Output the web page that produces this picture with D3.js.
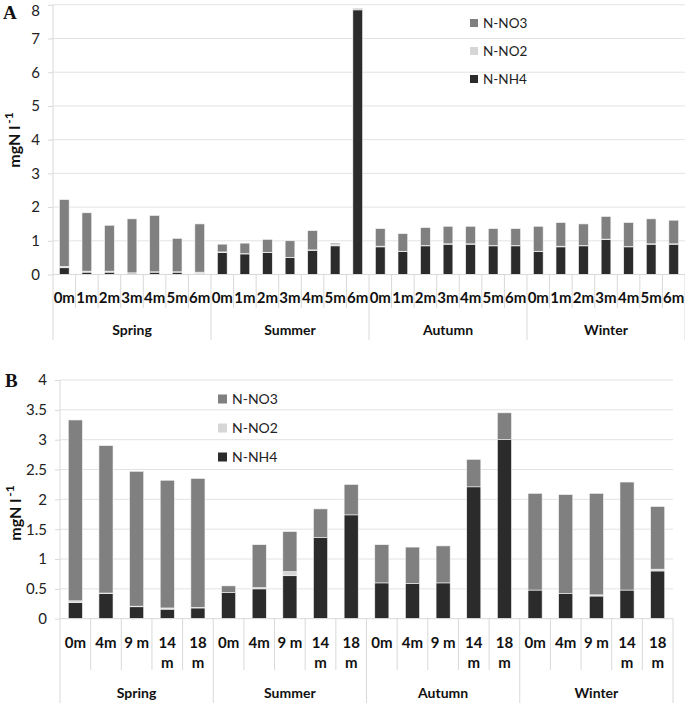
<!DOCTYPE html>
<html>
<head>
<meta charset="utf-8">
<script src="https://cdn.jsdelivr.net/npm/d3@7/dist/d3.min.js"></script>
<style>
  html, body { margin: 0; padding: 0; background: #fff; }
  svg { display: block; }
</style>
</head>
<body>
<svg id="chart" width="685" height="703"></svg>
<script>
// ---------- DATA ----------
const seriesKeys = ["N-NH4", "N-NO2", "N-NO3"];
const legendOrder = ["N-NO3", "N-NO2", "N-NH4"];
const seriesColors = ["#2b2b2b", "#d6d6d6", "#808080"];

// Panel A
const seasonsA = ["Spring", "Summer", "Autumn", "Winter"];
const depthsA = ["0m", "1m", "2m", "3m", "4m", "5m", "6m"];
const nh4A = [0.20, 0.07, 0.07, 0.04, 0.07, 0.07, 0.03,
              0.65, 0.61, 0.65, 0.50, 0.72, 0.85, 7.85,
              0.82, 0.68, 0.85, 0.90, 0.90, 0.85, 0.85,
              0.68, 0.82, 0.85, 1.04, 0.82, 0.90, 0.90];
const no2A = [0.04, 0.03, 0.03, 0.01, 0.01, 0.01, 0.04,
              0.02, 0.01, 0.01, 0.01, 0.01, 0.04, 0.01,
              0.02, 0.01, 0.01, 0.01, 0.01, 0.01, 0.01,
              0.01, 0.02, 0.01, 0.01, 0.01, 0.01, 0.01];
const no3A = [1.98, 1.73, 1.36, 1.60, 1.67, 0.99, 1.43,
              0.23, 0.31, 0.38, 0.49, 0.57, 0.04, 0.03,
              0.52, 0.52, 0.53, 0.52, 0.52, 0.50, 0.50,
              0.74, 0.70, 0.64, 0.67, 0.71, 0.74, 0.70];
const ticksA = [0, 1, 2, 3, 4, 5, 6, 7, 8];

// Panel B
const seasonsB = ["Spring", "Summer", "Autumn", "Winter"];
const depthsB = ["0m", "4m", "9 m", "14 m", "18 m"];
const nh4B = [0.27, 0.42, 0.20, 0.16, 0.18,
              0.44, 0.50, 0.72, 1.36, 1.74,
              0.60, 0.59, 0.60, 2.21, 3.00,
              0.48, 0.42, 0.38, 0.48, 0.80];
const no2B = [0.03, 0.01, 0.01, 0.02, 0.01,
              0.00, 0.02, 0.07, 0.00, 0.00,
              0.00, 0.00, 0.00, 0.00, 0.00,
              0.00, 0.00, 0.02, 0.00, 0.03];
const no3B = [3.03, 2.47, 2.26, 2.14, 2.16,
              0.11, 0.72, 0.67, 0.48, 0.51,
              0.64, 0.61, 0.62, 0.46, 0.45,
              1.62, 1.66, 1.70, 1.81, 1.05];
const ticksB = [0, 0.5, 1, 1.5, 2, 2.5, 3, 3.5, 4];

// ---------- DRAW ----------
const svg = d3.select("#chart");
const FONT = "Lato, 'Open Sans', 'Liberation Sans', sans-serif";

function buildRows(seasons, depths, nh4, no2, no3) {
  const rows = [];
  let i = 0;
  seasons.forEach(s => depths.forEach(d => {
    rows.push({ key: s + "|" + d, season: s, depth: d,
      "N-NH4": nh4[i], "N-NO2": no2[i], "N-NO3": no3[i] });
    i++;
  }));
  return rows;
}

function drawPanel(cfg) {
  const g = svg.append("g");
  const rows = buildRows(cfg.seasons, cfg.depths, cfg.nh4, cfg.no2, cfg.no3);
  const x = d3.scaleBand().domain(rows.map(r => r.key)).range([cfg.left, cfg.right]).padding(0);
  const y = d3.scaleLinear().domain([0, cfg.max]).range([cfg.bottom, cfg.top]);
  const step = x.step();
  const bw = step * cfg.barFrac;

  // gridlines
  g.append("g").selectAll("line").data(cfg.ticks.filter(t => t > 0)).join("line")
    .attr("x1", cfg.left).attr("x2", cfg.right)
    .attr("y1", d => y(d)).attr("y2", d => y(d))
    .attr("stroke", "#e3e3e3").attr("stroke-width", 1);

  // y axis
  const yAxis = d3.axisLeft(y).tickValues(cfg.ticks).tickSize(5).tickPadding(8)
    .tickFormat(d => String(d));
  const ya = g.append("g").attr("transform", `translate(${cfg.left},0)`).call(yAxis);
  ya.select(".domain").remove();
  ya.selectAll(".tick line").attr("stroke", "#d9d9d9");
  ya.selectAll(".tick text").attr("font-family", FONT).attr("font-size", cfg.tickFont)
    .attr("fill", "#222")
    .attr("y", d => Math.max(0, cfg.minTickBaseline - y(d)))
    .attr("dy", d => (cfg.minTickBaseline - y(d) > 0 ? "0" : "0.32em"));
  g.append("line").attr("x1", cfg.left).attr("x2", cfg.left)
    .attr("y1", cfg.top).attr("y2", cfg.groupLineEnd)
    .attr("stroke", "#d9d9d9");

  // bars
  const stack = d3.stack().keys(seriesKeys)(rows);
  g.append("g").selectAll("g").data(stack).join("g")
    .attr("fill", (d, i) => seriesColors[i])
    .selectAll("rect").data(d => d).join("rect")
    .attr("x", d => x(d.data.key) + (step - bw) / 2)
    .attr("width", bw)
    .attr("y", d => y(d[1]))
    .attr("height", d => Math.max(0, y(d[0]) - y(d[1])))
    .attr("stroke", "#f4f4f4").attr("stroke-width", 0.6);

  // baseline
  g.append("line").attr("x1", cfg.left).attr("x2", cfg.right)
    .attr("y1", cfg.bottom).attr("y2", cfg.bottom).attr("stroke", "#d9d9d9");

  // category separators
  const nPer = cfg.depths.length;
  rows.forEach((r, i) => {
    if (i === 0) return;
    const xs = x(r.key);
    const isGroup = i % nPer === 0;
    g.append("line").attr("x1", xs).attr("x2", xs)
      .attr("y1", cfg.bottom).attr("y2", isGroup ? cfg.groupLineEnd : cfg.catLineEnd)
      .attr("stroke", "#d9d9d9");
  });
  g.append("line").attr("x1", cfg.right).attr("x2", cfg.right)
    .attr("y1", cfg.bottom).attr("y2", cfg.groupLineEnd).attr("stroke", "#d9d9d9");

  // category labels (wrapped if too wide)
  rows.forEach(r => {
    const cx = x(r.key) + step / 2;
    const t = g.append("text").attr("x", cx).attr("y", cfg.catLabelY)
      .attr("text-anchor", "middle").attr("font-family", FONT)
      .attr("font-weight", "bold").attr("font-size", cfg.catFont).attr("fill", "#111")
      .text(r.depth);
    if (cfg.wrapWidth && t.node().getComputedTextLength() > cfg.wrapWidth) {
      const parts = r.depth.split(" ");
      t.text(null);
      parts.forEach((p, k) => t.append("tspan").attr("x", cx)
        .attr("dy", k === 0 ? 0 : cfg.lineH).text(p));
    }
  });

  // season labels
  cfg.seasons.forEach((s) => {
    const x0 = x(s + "|" + cfg.depths[0]);
    const cx = x0 + step * nPer / 2;
    g.append("text").attr("x", cx).attr("y", cfg.seasonY)
      .attr("text-anchor", "middle").attr("font-family", FONT)
      .attr("font-weight", "bold").attr("font-size", cfg.seasonFont).attr("fill", "#111")
      .text(s);
  });

  // y label
  const yl = g.append("text")
    .attr("transform", `translate(${cfg.yLabelX},${cfg.yLabelY}) rotate(-90)`)
    .attr("text-anchor", "middle").attr("font-family", FONT)
    .attr("font-weight", "bold").attr("font-size", cfg.yLabelFont).attr("fill", "#111");
  yl.append("tspan").text("mgN l");
  yl.append("tspan").attr("dy", -7).attr("dx", 2).attr("font-size", cfg.yLabelFont - 4).text("-1");

  // panel letter
  g.append("text").attr("x", cfg.letterX).attr("y", cfg.letterY)
    .attr("font-family", "'Liberation Serif', 'DejaVu Serif', serif")
    .attr("font-weight", "bold").attr("font-size", 19).attr("fill", "#111")
    .text(cfg.letter);

  // legend
  legendOrder.forEach((k, i) => {
    const ly = cfg.legend.y + i * cfg.legend.dy;
    g.append("rect").attr("x", cfg.legend.x).attr("y", ly - cfg.legend.sq / 2)
      .attr("width", cfg.legend.sq).attr("height", cfg.legend.sq)
      .attr("fill", seriesColors[seriesKeys.indexOf(k)]);
    g.append("text").attr("x", cfg.legend.x + cfg.legend.sq + 5).attr("y", ly)
      .attr("dy", "0.35em").attr("font-family", FONT).attr("font-size", cfg.legend.font)
      .attr("fill", "#222").text(k);
  });
}

drawPanel({
  seasons: seasonsA, depths: depthsA, nh4: nh4A, no2: no2A, no3: no3A,
  ticks: ticksA, max: 8,
  left: 53, right: 685, top: 4.8, bottom: 274.5, minTickBaseline: 15,
  barFrac: 0.43, tickFont: 15, catFont: 15, seasonFont: 14, wrapWidth: null, lineH: 20,
  catLabelY: 303, catLineEnd: 308, groupLineEnd: 340, seasonY: 335,
  yLabelX: 20, yLabelY: 140, yLabelFont: 16,
  letter: "A", letterX: 3, letterY: 19,
  legend: { x: 470, y: 23, dy: 28, sq: 8, font: 13.5 }
});

drawPanel({
  seasons: seasonsB, depths: depthsB, nh4: nh4B, no2: no2B, no3: no3B,
  ticks: ticksB, max: 4,
  left: 60, right: 673, top: 380, bottom: 618.7, minTickBaseline: 0,
  barFrac: 0.46, tickFont: 15, catFont: 15, seasonFont: 14, wrapWidth: 27, lineH: 20,
  catLabelY: 648, catLineEnd: 670, groupLineEnd: 703, seasonY: 698,
  yLabelX: 21, yLabelY: 513, yLabelFont: 16,
  letter: "B", letterX: 5, letterY: 387,
  legend: { x: 218, y: 399, dy: 29, sq: 9, font: 14 }
});
</script>
</body>
</html>
